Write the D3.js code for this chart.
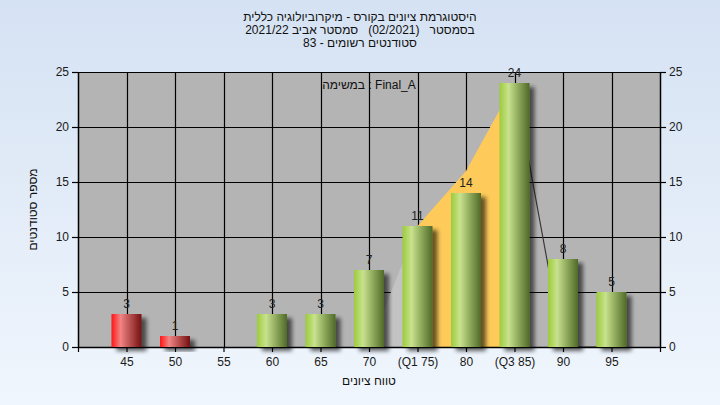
<!DOCTYPE html>
<html><head><meta charset="utf-8">
<script src="https://cdn.jsdelivr.net/npm/d3@7"></script>
<style>
html,body{margin:0;padding:0;background:#e6eef9;}
svg{display:block;font-family:"Liberation Sans",Arial,sans-serif;}
</style></head>
<body>
<svg id="c" width="720" height="405"></svg>
<script>
// ---- data ----
const titleLines = ["היסטוגרמת ציונים בקורס - מיקרוביולוגיה כללית",
                    "בסמסטר   (02/2021)   סמסטר אביב 2021/22",
                    "סטודנטים רשומים - 83"];
const legendText = "במשימה : Final_A";
const xTitle = "טווח ציונים";
const yTitle = "מספר סטודנטים";
const grades = [45,50,55,60,65,70,75,80,85,90,95];
const gradeLabels = ["45","50","55","60","65","70","(Q1 75)","80","(Q3 85)","90","95"];
const counts = [3,1,0,3,3,7,11,14,24,8,5];
const failing = [true,true,false,false,false,false,false,false,false,false,false];
const yTicks = [0,5,10,15,20,25];
const belowQ1Area = [[70,0],[75,11]];
const iqrArea = [[75,11],[80,16],[85,24]];
const aboveQ3Line = [[85,24],[90,0],[95,0]];

// ---- layout ----
const svg = d3.select("#c");
const W = 720, H = 405;
const L = 78, R = 660, T = 72, B = 347;
const x = d3.scaleLinear().domain([40,100]).range([L,R]);
const y = d3.scaleLinear().domain([0,25]).range([B,T]);
const barW = 30;

const defs = svg.append("defs");
const bg = defs.append("linearGradient").attr("id","bg").attr("x1",0).attr("y1",0).attr("x2",0).attr("y2",1);
bg.append("stop").attr("offset","0%").attr("stop-color","#d5e2f3");
bg.append("stop").attr("offset","100%").attr("stop-color","#f0f6fd");
function barGrad(id, c0, c1, c2){
  const g = defs.append("linearGradient").attr("id",id).attr("x1",0).attr("y1",0).attr("x2",1).attr("y2",0);
  g.append("stop").attr("offset","0%").attr("stop-color",c0);
  g.append("stop").attr("offset","30%").attr("stop-color",c1);
  g.append("stop").attr("offset","100%").attr("stop-color",c2);
}
barGrad("gGreen","#9ccb3a","#c8e28e","#4f6a26");
barGrad("gRed","#ff1414","#f28484","#741010");
const f = defs.append("filter").attr("id","sh").attr("x","-30%").attr("y","-30%").attr("width","170%").attr("height","170%");
f.append("feGaussianBlur").attr("in","SourceAlpha").attr("stdDeviation",2).attr("result","b");
f.append("feOffset").attr("in","b").attr("dx",5).attr("dy",4).attr("result","o");
f.append("feComponentTransfer").attr("in","o").attr("result","o2")
  .append("feFuncA").attr("type","linear").attr("slope",0.6);
const m = f.append("feMerge");
m.append("feMergeNode").attr("in","o2");
m.append("feMergeNode").attr("in","SourceGraphic");

svg.append("rect").attr("width",W).attr("height",H).attr("fill","url(#bg)");
svg.append("rect").attr("x",L).attr("y",T).attr("width",R-L).attr("height",B-T).attr("fill","#b4b4b4");

// title
svg.append("g").selectAll("text").data(titleLines).join("text")
  .attr("x",360).attr("y",(d,i)=>21+i*13)
  .attr("text-anchor","middle").attr("direction","rtl")
  .style("white-space","pre")
  .attr("font-size",12).attr("fill","#111").text(d=>d);

// gridlines
const grid = svg.append("g").attr("stroke","#000").attr("stroke-width",1.2);
grid.selectAll("line.v").data(grades).join("line").attr("class","v")
  .attr("x1",d=>Math.round(x(d))+0.5).attr("x2",d=>Math.round(x(d))+0.5).attr("y1",T).attr("y2",B);
grid.selectAll("line.h").data(yTicks.filter(d=>d>0)).join("line").attr("class","h")
  .attr("x1",L).attr("x2",R).attr("y1",d=>Math.round(y(d))+0.5).attr("y2",d=>Math.round(y(d))+0.5);

// areas
const area = d3.area().x(d=>x(d[0])).y0(y(0)).y1(d=>y(d[1]));
svg.append("path").datum(belowQ1Area).attr("d",area).attr("fill","#c3c3c3");
svg.append("path").datum(iqrArea).attr("d",area).attr("fill","#fecb5a");
svg.append("path").datum(aboveQ3Line).attr("d",d3.line().x(d=>x(d[0])).y(d=>y(d[1])))
  .attr("fill","none").attr("stroke","#3a3a3a").attr("stroke-width",1.2);

// axes
const axL = svg.append("g").attr("transform",`translate(${L},0)`)
  .call(d3.axisLeft(y).tickValues(yTicks).tickSize(6).tickPadding(3));
const axR = svg.append("g").attr("transform",`translate(${R},0)`)
  .call(d3.axisRight(y).tickValues(yTicks).tickSize(6).tickPadding(3));
const axB = svg.append("g").attr("transform",`translate(0,${B})`)
  .call(d3.axisBottom(x).tickValues([40].concat(grades,[100])).tickSize(5).tickPadding(5)
    .tickFormat(d=>{const i=grades.indexOf(d);return i<0?"":gradeLabels[i];}));
[axL,axR,axB].forEach(a=>{
  a.selectAll("path").attr("stroke","#000").attr("stroke-width",1.5);
  a.selectAll("line").attr("stroke","#000").attr("stroke-width",1.2);
  a.selectAll("text").attr("font-size",12).attr("fill","#1a1a1a").attr("font-family","Liberation Sans, Arial, sans-serif");
});
axL.select("path").attr("d",`M0.5,${B}V${T}`);
axR.select("path").attr("d",`M0.5,${B}V${T}`);
axB.select("path").attr("d",`M${L},0.5H${R}`);

// bars
svg.append("g").selectAll("rect").data(grades.map((g,i)=>({g,v:counts[i],f:failing[i]})).filter(d=>d.v>0))
  .join("rect")
  .attr("x",d=>x(d.g)-barW/2).attr("width",barW)
  .attr("y",d=>y(d.v)).attr("height",d=>y(0)-y(d.v))
  .attr("fill",d=>d.f?"url(#gRed)":"url(#gGreen)")
  .attr("filter","url(#sh)");

// value labels
svg.append("g").selectAll("text").data(grades.map((g,i)=>({g,v:counts[i]})).filter(d=>d.v>0))
  .join("text")
  .attr("x",d=>x(d.g)).attr("y",d=>y(d.v)-6)
  .attr("text-anchor","middle").attr("font-size",12).attr("fill","#222")
  .text(d=>d.v);

// legend text in plot
svg.append("text").attr("x",(L+R)/2).attr("y",89).attr("text-anchor","middle")
  .attr("direction","ltr").attr("font-size",12).attr("fill","#111").text(legendText);

// axis titles
svg.append("text").attr("x",369).attr("y",385).attr("text-anchor","middle").attr("direction","rtl")
  .attr("font-size",12).attr("fill","#111").text(xTitle);
svg.append("text").attr("transform",`translate(37,${(T+B)/2}) rotate(-90)`)
  .attr("text-anchor","middle").attr("direction","rtl")
  .attr("font-size",12).attr("fill","#111").text(yTitle);
</script>
</body></html>
